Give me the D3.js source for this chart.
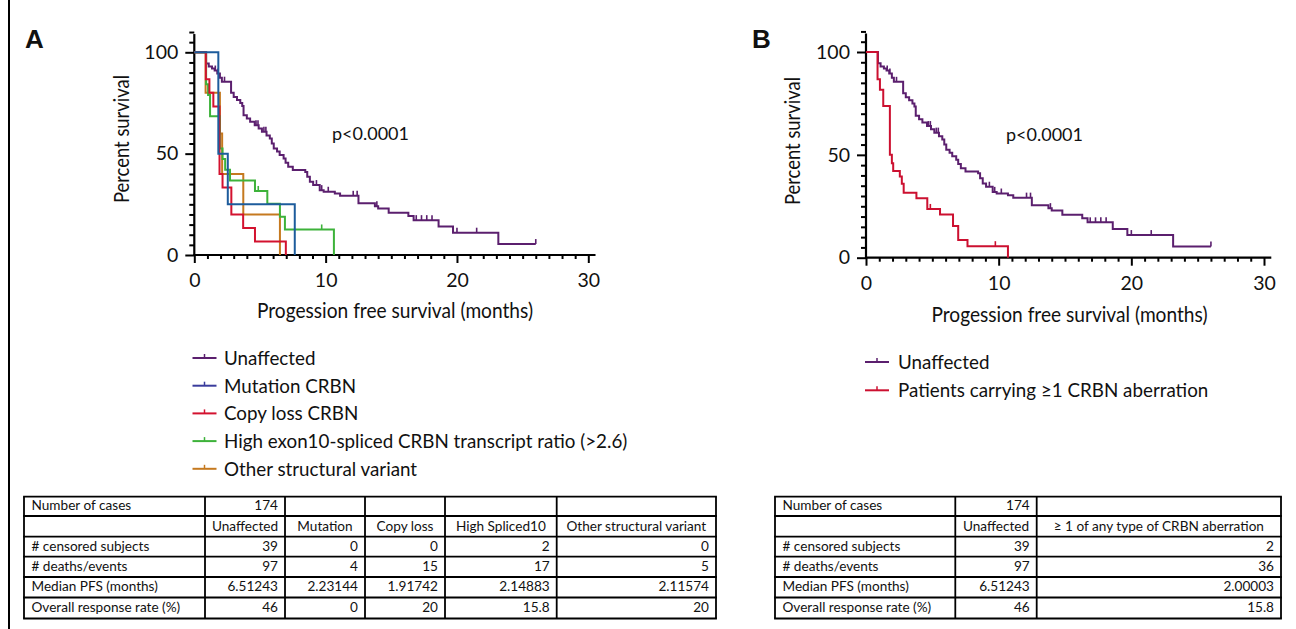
<!DOCTYPE html>
<html><head><meta charset="utf-8">
<script src="https://cdn.jsdelivr.net/npm/d3@7"></script>
<style>body{margin:0;background:#fff}svg{display:block}text{font-family:Lato,"Open Sans",sans-serif;fill:#111}</style>
</head><body><svg id="c" width="1296" height="629"></svg>
<script>
// ---------------- DATA ----------------
const xTicks = d3.range(0, 31, 1);
const xMajor = [0, 10, 20, 30];
const yTicks = d3.range(0, 111, 5);
const yMajor = [0, 50, 100];

const unaffectedSteps = [[0,100],[0.9,94.5],[1.1,93.0],[1.35,92.0],[1.55,91.0],[1.75,89.5],[1.95,87.5],[2.1,85.5],[2.8,80.0],[3.0,78.0],[3.25,76.5],[3.5,75.0],[3.65,73.5],[3.75,69.0],[4.0,67.3],[4.25,65.7],[4.6,64.0],[4.9,62.4],[5.15,60.8],[5.5,59.0],[5.75,57.5],[5.9,55.0],[6.05,52.5],[6.3,51.0],[6.5,49.3],[6.8,47.6],[6.95,45.5],[7.15,43.5],[7.5,41.9],[8.45,41.0],[8.6,38.6],[8.8,36.1],[9.05,34.5],[9.55,32.0],[9.85,31.2],[10.7,30.4],[11.1,29.2],[12.5,25.5],[13.75,24.1],[14.0,23.0],[14.8,20.9],[16.3,19.2],[16.7,17.2],[18.6,14.0],[19.7,11.0],[23.15,5.4]];
const unaffectedEnd = 26.0;
const unaffectedCensor = [1.6,1.8,2.3,4.7,4.85,5.3,5.45,9.3,9.7,10.2,12.1,12.4,13.9,16.9,17.3,17.7,18.1,20.0,21.5,26.0];

const mutationSteps = [[0,100],[1.83,50],[2.55,25],[7.65,0]];
const mutationEnd = 7.65;
const mutationCensor = [];

const copyLossSteps = [[0,100],[0.88,86.7],[1.15,80],[1.45,73.3],[1.92,40],[2.15,33.3],[2.82,20],[3.72,13.3],[4.62,6.7],[6.97,0]];
const copyLossEnd = 6.97;
const copyLossCensor = [];

const splicedSteps = [[0,100],[0.9,84.2],[1.05,78.9],[1.2,68.4],[1.95,52.6],[2.15,47.4],[2.35,42.1],[2.72,36.8],[4.62,31.6],[5.56,25.3],[6.52,18.9],[6.9,12.6],[10.63,0]];
const splicedEnd = 10.63;
const splicedCensor = [4.87, 9.7];

const otherSteps = [[0,100],[0.86,80],[1.95,60],[2.12,40],[3.73,20],[6.52,0]];
const otherEnd = 6.52;
const otherCensor = [];

const anyAberrSteps = [[0,100],[0.87,86.8],[1.05,81.6],[1.3,73.7],[1.8,50.0],[1.95,45.9],[2.05,42.1],[2.55,39.5],[2.7,36.0],[2.84,31.6],[3.8,28.9],[4.62,23.7],[5.58,21.0],[6.56,15.4],[6.95,8.6],[7.65,5.6],[10.7,0]];
const anyAberrEnd = 10.7;
const anyAberrCensor = [4.85, 9.75];

const legendA = ["Unaffected","Mutation CRBN","Copy loss CRBN","High exon10-spliced CRBN transcript ratio (>2.6)","Other structural variant"];
const legendB = ["Unaffected","Patients carrying \u22651 CRBN aberration"];

const tableARowLabels = ["Number of cases","","# censored subjects","# deaths/events","Median PFS (months)","Overall response rate (%)"];
const tableAGroups = ["Unaffected","Mutation","Copy loss","High Spliced10","Other structural variant"];
const tableACases = ["174","","","",""];
const tableACensored = ["39","0","0","2","0"];
const tableAEvents = ["97","4","15","17","5"];
const tableAMedian = ["6.51243","2.23144","1.91742","2.14883","2.11574"];
const tableAResponse = ["46","0","20","15.8","20"];

const tableBGroups = ["Unaffected","\u2265 1 of any type of CRBN aberration"];
const tableBCases = ["174",""];
const tableBCensored = ["39","2"];
const tableBEvents = ["97","36"];
const tableBMedian = ["6.51243","2.00003"];
const tableBResponse = ["46","15.8"];

// ---------------- STYLE / LAYOUT ----------------
const C = {purple:"#5b1f6e", blue:"#1d5c9c", red:"#d3122f", green:"#3db23a", orange:"#c5791f", red2:"#cc1030"};
const svg = d3.select("#c");

// frame line
svg.append("line").attr("x1",9).attr("x2",9).attr("y1",0).attr("y2",629).attr("stroke","#000").attr("stroke-width",2);

function panel(cfg){
  const g = svg.append("g");
  const x = d3.scaleLinear().domain([0,30]).range([cfg.x0, cfg.x30]);
  const y = d3.scaleLinear().domain([0,100]).range([cfg.y0, cfg.y100]);
  const xMinor = d3.axisBottom(x).tickValues(xTicks.filter(v=>!xMajor.includes(v))).tickSize(4).tickFormat("");
  const xMaj = d3.axisBottom(x).tickValues(xMajor).tickSize(8).tickPadding(10).tickFormat(d3.format("d"));
  const yMinor = d3.axisLeft(y).tickValues(yTicks.filter(v=>!yMajor.includes(v))).tickSize(5).tickFormat("");
  const yMaj = d3.axisLeft(y).tickValues(yMajor).tickSize(9).tickPadding(7).tickFormat(d3.format("d"));
  [[xMinor,"x"],[xMaj,"x"],[yMinor,"y"],[yMaj,"y"]].forEach(([ax,k])=>{
    const a = g.append("g").attr("transform", k==="x" ? `translate(0,${cfg.y0})` : `translate(${cfg.x0},0)`).call(ax);
    a.select(".domain").remove();
    a.selectAll("line").attr("stroke","#000").attr("stroke-width",2);
    a.selectAll("text").style("font-family","Lato, sans-serif").style("font-size","19.5px").attr("fill","#111");
  });
  g.append("line").attr("x1",cfg.x0-1).attr("x2",x(30.55)).attr("y1",cfg.y0).attr("y2",cfg.y0).attr("stroke","#000").attr("stroke-width",2.2);
  g.append("line").attr("x1",cfg.x0).attr("x2",cfg.x0).attr("y1",cfg.y0+1).attr("y2",y(109)).attr("stroke","#000").attr("stroke-width",2.2);
  g.append("text").attr("x",cfg.xTitleX).attr("y",cfg.xTitleY).attr("text-anchor","middle")
    .attr("textLength",276).attr("lengthAdjust","spacingAndGlyphs").style("font-size","22px")
    .text("Progession free survival (months)");
  g.append("text").attr("transform",`translate(${cfg.yTitleX},${cfg.yTitleY}) rotate(-90)`).attr("text-anchor","middle")
    .attr("textLength",128).attr("lengthAdjust","spacingAndGlyphs").style("font-size","21px")
    .text("Percent survival");
  g.append("text").attr("x",cfg.pX).attr("y",cfg.pY).style("font-size","18px").text("p<0.0001");
  g.append("text").attr("x",cfg.lblX).attr("y",48).style("font-family","'Liberation Sans',Arial,sans-serif").style("font-weight","bold").style("font-size","26px").attr("fill","#000").text(cfg.label);
  return {g,x,y};
}

function km(p, steps, end, censor, color){
  const pts = steps.concat([[end, steps[steps.length-1][1]]]);
  const line = d3.line().x(d=>p.x(d[0])).y(d=>p.y(d[1])).curve(d3.curveStepAfter);
  p.g.append("path").attr("d",line(pts)).attr("fill","none").attr("stroke",color).attr("stroke-width",2).attr("stroke-linejoin","miter");
  const sAt = t => { let s=100; steps.forEach(d=>{ if(d[0]<=t) s=d[1]; }); return s; };
  p.g.selectAll(null).data(censor).enter().append("line")
    .attr("x1",d=>p.x(d)).attr("x2",d=>p.x(d))
    .attr("y1",d=>p.y(sAt(d))).attr("y2",d=>p.y(sAt(d))-5)
    .attr("stroke",color).attr("stroke-width",1.6);
}

const pA = panel({x0:194.3,x30:588.3,y0:255,y100:52.3,xTitleX:395,xTitleY:318,yTitleX:129,yTitleY:139,pX:332,pY:140,lblX:25,label:"A"});
km(pA, unaffectedSteps, unaffectedEnd, unaffectedCensor, C.purple);
km(pA, otherSteps, otherEnd, otherCensor, C.orange);
km(pA, splicedSteps, splicedEnd, splicedCensor, C.green);
km(pA, copyLossSteps, copyLossEnd, copyLossCensor, C.red);
km(pA, mutationSteps, mutationEnd, mutationCensor, C.blue);

const pB = panel({x0:866,x30:1264,y0:257.7,y100:52,xTitleX:1069.5,xTitleY:322,yTitleX:800,yTitleY:141,pX:1006,pY:141,lblX:752,label:"B"});
km(pB, unaffectedSteps, unaffectedEnd, unaffectedCensor, C.purple);
km(pB, anyAberrSteps, anyAberrEnd, anyAberrCensor, C.red2);

function legend(items, colors, lx, tx, y0, dy){
  items.forEach((t,i)=>{
    const y = y0 + i*dy;
    svg.append("line").attr("x1",lx).attr("x2",lx+24).attr("y1",y).attr("y2",y).attr("stroke",colors[i]).attr("stroke-width",2);
    svg.append("line").attr("x1",lx+12).attr("x2",lx+12).attr("y1",y).attr("y2",y-4).attr("stroke",colors[i]).attr("stroke-width",1.5);
    svg.append("text").attr("x",tx).attr("y",y+6.8).style("font-size","18.8px").text(t);
  });
}
legend(legendA, [C.purple,"#3a3c9c",C.red,C.green,C.orange], 192.5, 224, 358, 27.7);
legend(legendB, [C.purple,C.red2], 865, 898, 362, 28.3);

function table(colX, rowY, rows){
  const g = svg.append("g");
  rows.forEach((r,ri)=>{
    const top = rowY[ri];
    const base = top + (ri===0 ? 12.8 : ri===1 ? 15 : 14.2);
    r.forEach((v,ci)=>{
      if(v==="") return;
      let x, anchor;
      if(ci===0){ x = colX[0]+7.5; anchor="start"; }
      else if(ri===1){ x=(colX[ci]+colX[ci+1])/2; anchor="middle"; }
      else { x = colX[ci+1]-7; anchor="end"; }
      g.append("text").attr("x",x).attr("y",base).attr("text-anchor",anchor).style("font-size","13.6px").text(v);
    });
  });
  const y0=rowY[0], y1=rowY[rowY.length-1];
  colX.forEach(x=>g.append("line").attr("x1",x).attr("x2",x).attr("y1",y0).attr("y2",y1).attr("stroke","#000").attr("stroke-width",1.8));
  rowY.forEach(y=>g.append("line").attr("x1",colX[0]-0.9).attr("x2",colX[colX.length-1]+0.9).attr("y1",y).attr("y2",y).attr("stroke","#000").attr("stroke-width",1.8));
}
const rowsY = [496.7,516,536.7,556.7,577,597.5,618.5];
table([24,205,285,365,445,556.7,716], rowsY, [
  [tableARowLabels[0], ...tableACases],
  [tableARowLabels[1], ...tableAGroups],
  [tableARowLabels[2], ...tableACensored],
  [tableARowLabels[3], ...tableAEvents],
  [tableARowLabels[4], ...tableAMedian],
  [tableARowLabels[5], ...tableAResponse]
]);
table([775,955.3,1036.7,1281], rowsY, [
  [tableARowLabels[0], ...tableBCases],
  [tableARowLabels[1], ...tableBGroups],
  [tableARowLabels[2], ...tableBCensored],
  [tableARowLabels[3], ...tableBEvents],
  [tableARowLabels[4], ...tableBMedian],
  [tableARowLabels[5], ...tableBResponse]
]);
</script></body></html>
